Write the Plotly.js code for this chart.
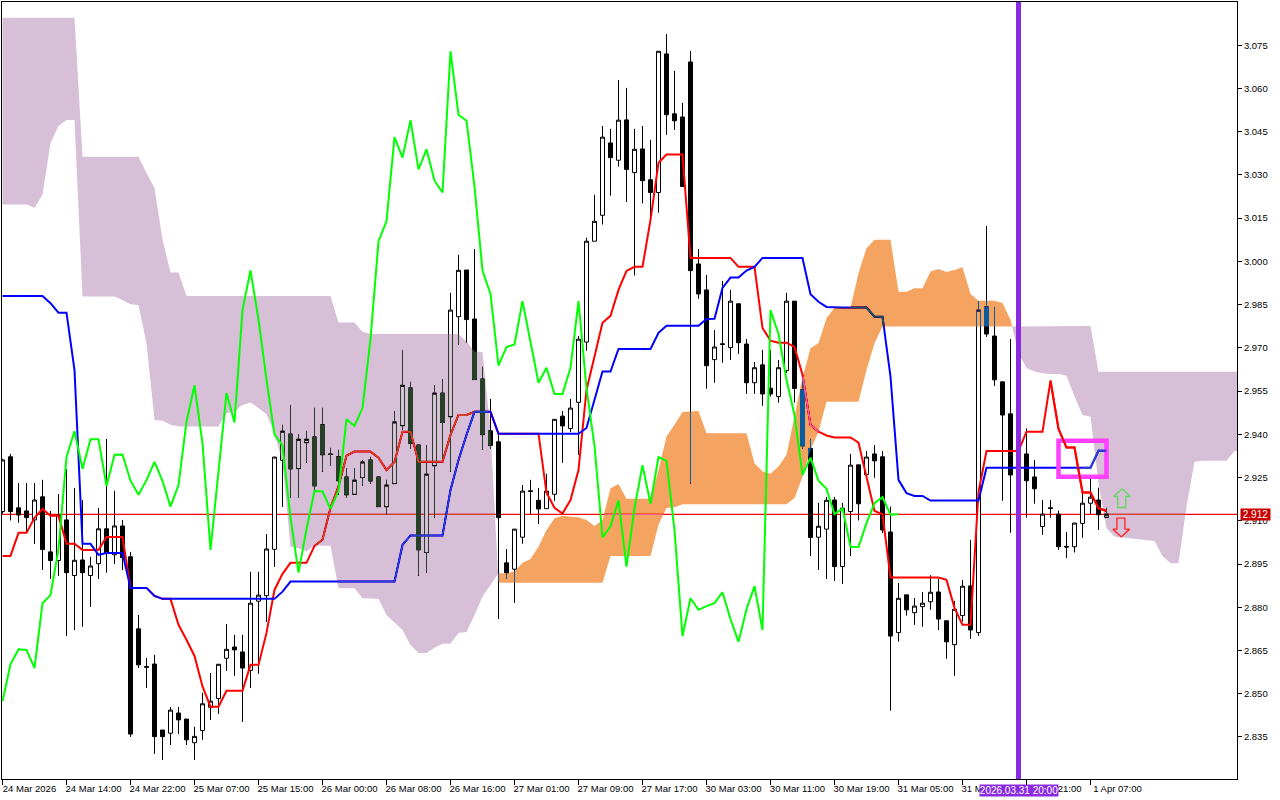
<!DOCTYPE html>
<html>
<head>
<meta charset="utf-8">
<script src="https://cdn.plot.ly/plotly-3.0.1.min.js"></script>
<style>
html,body{margin:0;padding:0;background:#fff;overflow:hidden}
#chart{width:1280px;height:800px}
/* the terminal paints its cloud as an XOR over what is already drawn */
.scatterlayer .js-fill{mix-blend-mode:difference}
</style>
</head>
<body>
<div id="chart"></div>
<script>
const open=[2.9132,2.9322,2.9145,2.9134,2.9103,2.9183,2.8992,2.8962,2.9103,2.8910,
2.8964,2.8910,2.8951,2.9072,2.8982,2.9082,2.8975,2.8725,2.8594,2.8603,
2.8374,2.8363,2.8433,2.8412,2.8330,2.8372,2.8453,2.8483,2.8623,2.8662,
2.8645,2.8581,2.8821,2.8840,2.9001,2.9310,2.9401,2.9281,2.9371,2.9391,
2.9433,2.9332,2.9322,2.9252,2.9192,2.9250,2.9311,2.9252,2.9149,2.9229,
2.9430,2.9561,2.9363,2.8990,2.9291,2.9543,2.9461,2.9808,2.9970,2.9800,
2.9592,2.9412,2.9374,2.8954,2.8932,2.9043,2.9204,2.9171,2.9142,2.9192,
2.9463,2.9420,2.9511,2.9720,3.0070,3.0160,3.0411,3.0351,3.0491,3.0308,
3.0390,3.0283,3.0239,3.0720,3.0512,3.0501,3.0692,2.9991,2.9901,2.9659,
2.9714,2.9701,2.9853,2.9713,2.9579,2.9641,2.9560,2.9531,2.9621,2.9862,
2.9554,2.9351,2.9043,2.9071,2.9172,2.8941,2.9132,2.9294,2.9260,2.9332,
2.9322,2.9061,2.8712,2.8843,2.8781,2.8802,2.8819,2.8853,2.8753,2.8670,
2.8771,2.8874,2.8712,2.9842,2.9741,2.9582,2.9471,2.9259,2.9332,2.9252,
2.9080,2.9145,2.9123,2.9011,2.9010,2.9091,2.9161,2.9172,2.9112];
const high=[2.9315,2.9332,2.9231,2.9231,2.9231,2.9242,2.9134,2.9193,2.9280,2.9214,
2.9172,2.8975,2.9145,2.9384,2.9204,2.9103,2.8992,2.8773,2.8624,2.8635,
2.8374,2.8454,2.8454,2.8412,2.8385,2.8503,2.8572,2.8603,2.8742,2.8704,
2.8704,2.8923,2.8923,2.9054,2.9322,2.9433,2.9502,2.9401,2.9412,2.9492,
2.9492,2.9353,2.9346,2.9283,2.9283,2.9311,2.9322,2.9252,2.9242,2.9481,
2.9693,2.9582,2.9363,2.9363,2.9571,2.9592,2.9891,3.0023,2.9970,3.0043,
2.9634,2.9523,2.9405,2.9002,2.9071,2.9224,2.9242,2.9214,2.9263,2.9452,
2.9481,2.9523,2.9741,3.0082,3.0231,3.0470,3.0460,3.0629,3.0602,3.0460,
3.0470,3.0422,3.0730,3.0789,3.0661,3.0550,3.0730,3.0043,2.9953,2.9762,
2.9932,2.9901,2.9853,2.9731,2.9651,2.9693,2.9693,2.9658,2.9891,2.9862,
2.9599,2.9384,2.9162,2.9183,2.9183,2.9162,2.9332,2.9294,2.9342,2.9363,
2.9342,2.9149,2.8884,2.8843,2.8832,2.8853,2.8911,2.8898,2.8753,2.8822,
2.8895,2.9034,2.9863,3.0123,2.9842,2.9582,2.9731,2.9360,2.9421,2.9311,
2.9172,2.9172,2.9135,2.9061,2.9093,2.9197,2.9252,2.9215,2.9145];
const low=[2.9125,2.9101,2.9093,2.9058,2.9020,2.8929,2.8898,2.8909,2.8700,2.8721,
2.8732,2.8801,2.8898,2.8920,2.8950,2.8929,2.8350,2.8589,2.8520,2.8291,
2.8270,2.8322,2.8360,2.8322,2.8270,2.8340,2.8409,2.8430,2.8579,2.8562,
2.8402,2.8520,2.8569,2.8749,2.8940,2.9148,2.9179,2.9179,2.9301,2.9204,
2.9270,2.9290,2.9190,2.9179,2.9190,2.9221,2.9228,2.9148,2.9120,2.9228,
2.9415,2.9349,2.8909,2.8919,2.9110,2.9304,2.9270,2.9710,2.9717,2.9589,
2.9346,2.9349,2.8759,2.8898,2.8815,2.9020,2.9120,2.9089,2.9141,2.9169,
2.9301,2.9408,2.9329,2.9690,3.0070,3.0128,3.0228,3.0329,3.0206,2.9951,
3.0201,3.0155,3.0169,3.0439,3.0456,3.0259,2.9229,2.9870,2.9558,2.9579,
2.9648,2.9658,2.9679,2.9540,2.9540,2.9499,2.9531,2.9510,2.9613,2.9510,
2.9350,2.8978,2.8929,2.8898,2.8891,2.8881,2.8978,2.9101,2.9259,2.9249,
2.9057,2.8441,2.8681,2.8771,2.8739,2.8732,2.8791,2.8721,2.8621,2.8562,
2.8750,2.8690,2.8700,2.9738,2.9568,2.9169,2.9058,2.9240,2.9111,2.9159,
2.9051,2.9111,2.8999,2.8971,2.8990,2.9041,2.9123,2.9068,2.9112];
const close=[2.9311,2.9132,2.9120,2.9111,2.9172,2.9000,2.8962,2.9120,2.8920,2.8963,
2.8920,2.8943,2.9072,2.8988,2.9082,2.8972,2.8360,2.8600,2.8592,2.8351,
2.8351,2.8443,2.8409,2.8340,2.8352,2.8465,2.8474,2.8602,2.8654,2.8652,
2.8589,2.8814,2.8842,2.9002,2.9321,2.9411,2.9280,2.9383,2.9383,2.9221,
2.9329,2.9330,2.9239,2.9190,2.9241,2.9304,2.9238,2.9149,2.9224,2.9443,
2.9570,2.9369,2.8999,2.9262,2.9543,2.9441,2.9831,2.9969,2.9798,2.9590,
2.9399,2.9361,2.9111,2.8920,2.9071,2.9203,2.9202,2.9141,2.9203,2.9452,
2.9429,2.9491,2.9730,3.0070,3.0139,3.0431,3.0360,3.0490,3.0319,3.0389,
3.0280,3.0239,3.0729,3.0509,3.0488,3.0260,2.9968,2.9887,2.9638,2.9703,
2.9712,2.9862,2.9718,2.9579,2.9631,2.9540,2.9540,2.9631,2.9862,2.9559,
2.9360,2.9042,2.9081,2.9171,2.8941,2.9144,2.9293,2.9159,2.9321,2.9308,
2.9068,2.8700,2.8831,2.8791,2.8804,2.8814,2.8852,2.8759,2.8680,2.8793,
2.8873,2.8721,2.9831,2.9748,2.9589,2.9467,2.9259,2.9319,2.9239,2.9211,
2.9123,2.9143,2.9010,2.9009,2.9092,2.9161,2.9182,2.9121,2.9123];
const tenkan=[2.8978,2.8978,2.9058,2.9058,2.9110,2.9141,2.9117,2.9117,2.9020,2.9020,
2.8999,2.8999,2.8999,2.9044,2.9044,2.9044,2.8867,2.8867,2.8867,2.8839,
2.8829,2.8829,2.8739,2.8687,2.8631,2.8525,2.8455,2.8455,2.8510,2.8510,
2.8510,2.8600,2.8600,2.8711,2.8860,2.8916,2.8954,2.8954,2.8954,2.9013,
2.9034,2.9145,2.9219,2.9326,2.9340,2.9340,2.9340,2.9319,2.9276,2.9304,
2.9409,2.9409,2.9305,2.9305,2.9305,2.9305,2.9398,2.9467,2.9467,2.9478,
2.9478,2.9478,2.9402,2.9402,2.9402,2.9402,2.9402,2.9402,2.9197,2.9145,
2.9125,2.9172,2.9276,2.9554,2.9670,2.9787,2.9811,2.9901,2.9967,2.9981,
2.9981,3.0144,3.0342,3.0371,3.0371,3.0371,3.0012,3.0012,3.0012,3.0012,
3.0012,3.0012,2.9981,2.9981,2.9981,2.9769,2.9725,2.9718,2.9718,2.9703,
2.9606,2.9433,2.9409,2.9396,2.9389,2.9389,2.9389,2.9371,2.9253,2.9134,
2.9123,2.8903,2.8903,2.8903,2.8903,2.8903,2.8903,2.8903,2.8895,2.8798,
2.8739,2.8739,2.9200,2.9342,2.9342,2.9342,2.9342,2.9342,2.9409,2.9409,
2.9409,2.9586,2.9419,2.9354,2.9354,2.9198,2.9198,2.9144,2.9134];
const kijun=[2.9880,2.9880,2.9880,2.9880,2.9880,2.9880,2.9855,2.9822,2.9822,2.9623,
2.9020,2.9020,2.8982,2.8988,2.8988,2.8988,2.8867,2.8867,2.8867,2.8839,
2.8829,2.8829,2.8829,2.8829,2.8829,2.8829,2.8829,2.8829,2.8829,2.8829,
2.8829,2.8829,2.8829,2.8829,2.8829,2.8854,2.8889,2.8889,2.8889,2.8889,
2.8889,2.8889,2.8889,2.8889,2.8889,2.8889,2.8889,2.8889,2.8889,2.8889,
2.9016,2.9049,2.9049,2.9049,2.9049,2.9049,2.9207,2.9311,2.9398,2.9478,
2.9478,2.9478,2.9402,2.9402,2.9402,2.9402,2.9402,2.9402,2.9402,2.9402,
2.9402,2.9402,2.9402,2.9422,2.9519,2.9618,2.9618,2.9696,2.9696,2.9696,
2.9696,2.9696,2.9752,2.9777,2.9777,2.9777,2.9777,2.9777,2.9800,2.9801,
2.9908,2.9944,2.9944,2.9968,2.9981,3.0012,3.0012,3.0012,3.0012,3.0012,
3.0012,2.9886,2.9860,2.9842,2.9840,2.9840,2.9840,2.9840,2.9840,2.9808,
2.9808,2.9600,2.9242,2.9196,2.9186,2.9186,2.9170,2.9170,2.9170,2.9170,
2.9170,2.9170,2.9170,2.9284,2.9284,2.9284,2.9284,2.9284,2.9284,2.9284,
2.9284,2.9284,2.9284,2.9284,2.9284,2.9284,2.9284,2.9343,2.9343];
const chikou=[2.8474,2.8602,2.8654,2.8652,2.8589,2.8814,2.8842,2.9002,2.9321,2.9411,
2.9280,2.9383,2.9383,2.9221,2.9329,2.9330,2.9239,2.9190,2.9241,2.9304,
2.9238,2.9149,2.9224,2.9443,2.9570,2.9369,2.8999,2.9262,2.9543,2.9441,
2.9831,2.9969,2.9798,2.9590,2.9399,2.9361,2.9111,2.8920,2.9071,2.9203,
2.9202,2.9141,2.9203,2.9452,2.9429,2.9491,2.9730,3.0070,3.0139,3.0431,
3.0360,3.0490,3.0319,3.0389,3.0280,3.0239,3.0729,3.0509,3.0488,3.0260,
2.9968,2.9887,2.9638,2.9703,2.9712,2.9862,2.9718,2.9579,2.9631,2.9540,
2.9540,2.9631,2.9862,2.9559,2.9360,2.9042,2.9081,2.9171,2.8941,2.9144,
2.9293,2.9159,2.9321,2.9308,2.9068,2.8700,2.8831,2.8791,2.8804,2.8814,
2.8852,2.8759,2.8680,2.8793,2.8873,2.8721,2.9831,2.9748,2.9589,2.9467,
2.9259,2.9319,2.9239,2.9211,2.9123,2.9143,2.9010,2.9009,2.9092,2.9161,
2.9182,2.9121,2.9123];
const spanA=[3.0197,3.0197,3.0197,3.0197,3.0186,3.0231,3.0411,3.0470,3.0491,3.0491,
2.9878,2.9878,2.9878,2.9878,2.9878,2.9866,2.9851,2.9849,2.9716,2.9450,
2.9447,2.9433,2.9427,2.9427,2.9427,2.9427,2.9427,2.9427,2.9473,2.9479,
2.9502,2.9510,2.9491,2.9470,2.9404,2.9300,2.9010,2.9005,2.8993,2.9016,
2.9013,2.9013,2.8866,2.8866,2.8866,2.8831,2.8829,2.8829,2.8773,2.8746,
2.8721,2.8669,2.8641,2.8641,2.8659,2.8673,2.8673,2.8711,2.8714,2.8773,
2.8836,2.8877,2.8918,2.8918,2.8924,2.8954,2.8967,2.9010,2.9068,2.9109,
2.9117,2.9114,2.9112,2.9103,2.9082,2.9103,2.9213,2.9228,2.9176,2.9176,
2.9176,2.9176,2.9276,2.9392,2.9433,2.9477,2.9479,2.9481,2.9404,2.9404,
2.9404,2.9404,2.9404,2.9404,2.9300,2.9271,2.9263,2.9288,2.9329,2.9467,
2.9596,2.9699,2.9717,2.9803,2.9839,2.9839,2.9839,2.9959,3.0046,3.0075,
3.0075,3.0075,2.9895,2.9895,2.9907,2.9907,2.9965,2.9974,2.9963,2.9970,
2.9980,2.9887,2.9863,2.9863,2.9863,2.9856,2.9797,2.9681,2.9630,2.9618,
2.9612,2.9609,2.9609,2.9603,2.9531,2.9467,2.9461,2.9230,2.9074,2.9045,
2.9042,2.9039,2.9036,2.9034,2.9030,2.8978,2.8953,2.8953,2.9149,2.9305,
2.9308,2.9308,2.9308,2.9308,2.9342];
const spanB=[3.0845,3.0845,3.0845,3.0845,3.0845,3.0845,3.0845,3.0845,3.0845,3.0845,
3.0363,3.0363,3.0363,3.0363,3.0363,3.0363,3.0363,3.0363,3.0307,3.0255,
3.0075,2.9961,2.9961,2.9880,2.9880,2.9880,2.9880,2.9880,2.9880,2.9880,
2.9880,2.9880,2.9880,2.9880,2.9880,2.9880,2.9880,2.9880,2.9880,2.9880,
2.9880,2.9880,2.9788,2.9788,2.9788,2.9756,2.9748,2.9748,2.9748,2.9748,
2.9748,2.9748,2.9748,2.9748,2.9748,2.9748,2.9748,2.9748,2.9722,2.9687,
2.9686,2.9415,2.8885,2.8885,2.8885,2.8885,2.8885,2.8885,2.8885,2.8885,
2.8885,2.8885,2.8885,2.8885,2.8885,2.8885,2.8978,2.8978,2.8978,2.8978,
2.8978,2.8978,2.9086,2.9144,2.9147,2.9157,2.9157,2.9157,2.9157,2.9157,
2.9157,2.9157,2.9157,2.9157,2.9157,2.9157,2.9157,2.9157,2.9157,2.9179,
2.9253,2.9346,2.9409,2.9513,2.9513,2.9513,2.9513,2.9513,2.9623,2.9716,
2.9774,2.9774,2.9774,2.9774,2.9774,2.9774,2.9774,2.9774,2.9774,2.9774,
2.9774,2.9774,2.9774,2.9774,2.9774,2.9774,2.9774,2.9776,2.9776,2.9776,
2.9776,2.9776,2.9776,2.9776,2.9776,2.9776,2.9776,2.9617,2.9617,2.9617,
2.9617,2.9617,2.9617,2.9617,2.9617,2.9617,2.9617,2.9617,2.9617,2.9617,
2.9617,2.9617,2.9617,2.9617,2.9617];
const xTickVals=[0,8,16,24,32,40,48,56,64,72,80,88,96,104,112,120,128,136];
const xTickText=['24 Mar 2026','24 Mar 14:00','24 Mar 22:00','25 Mar 07:00','25 Mar 15:00','26 Mar 00:00','26 Mar 08:00','26 Mar 16:00','27 Mar 01:00','27 Mar 09:00','27 Mar 17:00','30 Mar 03:00','30 Mar 11:00','30 Mar 19:00','31 Mar 05:00','31 Mar 13:00','31 Mar 21:00','1 Apr 07:00'];
const yTickVals=[2.835,2.85,2.865,2.88,2.895,2.91,2.925,2.94,2.955,2.97,2.985,3.0,3.015,3.03,3.045,3.06,3.075];
const lastPrice=2.9122;
const markerBar=127;
const boxX=[132,138,138,132,132,138];
const boxY=[2.9378,2.9378,2.9253,2.9253,2.9378,2.9378];
const upArrowX=[139.97,141,140.4,140.4,139.4,139.4,138.9,139.97];
const upArrowY=[2.9211,2.9184,2.9184,2.9146,2.9146,2.9184,2.9184,2.9211];
const downArrowX=[139.85,140.9,140.3,140.3,139.3,139.3,138.8,139.85];
const downArrowY=[2.9044,2.9071,2.9071,2.9109,2.9109,2.9071,2.9071,2.9044];
const xMin=-0.0625, xMax=154.3125, yMin=2.8204, yMax=3.0900;

const idx=close.map((_,i)=>i);
const font={family:'"Liberation Sans",Arial,sans-serif',size:9.5,color:'#000'};

// Cloud polygons, split wherever the two spans cross
function cloudTraces(){
  const xs=spanA.map((_,i)=>i).concat([xMax]);
  const a=spanA.concat([spanA[spanA.length-1]]);
  const b=spanB.concat([spanB[spanB.length-1]]);
  const out=[];
  let cx=[xs[0]],ca=[a[0]],cb=[b[0]],up=a[0]>b[0];
  const flush=()=>{
    out.push({type:'scatter',mode:'lines',x:cx.concat(cx.slice().reverse()),
      y:ca.concat(cb.slice().reverse()),fill:'toself',
      fillcolor:up?'#0B5B9F':'#274027',line:{width:0},hoverinfo:'skip',showlegend:false});
  };
  for(let i=1;i<xs.length;i++){
    const nowUp=a[i]>b[i];
    if(nowUp!==up){
      const d0=a[i-1]-b[i-1],d1=a[i]-b[i],t=d0/(d0-d1);
      const xc=xs[i-1]+t*(xs[i]-xs[i-1]),yc=a[i-1]+t*(a[i]-a[i-1]);
      cx.push(xc);ca.push(yc);cb.push(yc);flush();
      cx=[xc];ca=[yc];cb=[yc];up=nowUp;
    }
    cx.push(xs[i]);ca.push(a[i]);cb.push(b[i]);
  }
  flush();
  return out;
}
const line=(x,y,color,width)=>({type:'scatter',mode:'lines',x,y,line:{color,width},hoverinfo:'skip',showlegend:false});

const traces=[
  // white backing inside the plot group, so the cloud's XOR has something to act on
  {type:'bar',orientation:'v',x:[(xMin+xMax)/2],y:[yMax-yMin],base:[yMin],width:[xMax-xMin],
   marker:{color:'#ffffff',line:{width:0}},hoverinfo:'skip',showlegend:false},
  // last-price line, under the candles
  {type:'bar',orientation:'h',y:[lastPrice],x:[xMax-xMin],base:[xMin],width:[0.0004],
   marker:{color:'#ff0000',line:{width:0}},hoverinfo:'skip',showlegend:false},
  {type:'candlestick',x:idx,open,high,low,close,whiskerwidth:0,hoverinfo:'skip',showlegend:false,
   increasing:{line:{color:'#000',width:1},fillcolor:'#fff'},
   decreasing:{line:{color:'#000',width:1},fillcolor:'#000'}},
  line(idx,tenkan,'#ff0000',2),
  line(idx,kijun,'#0000ff',2),
  ...cloudTraces(),
  line(boxX,boxY,'#ff40ff',4.5),
  line(idx.slice(131),tenkan.slice(131),'#ff0000',2),
  line(idx.slice(135),kijun.slice(135),'#2a40d8',2),
  line(chikou.map((_,i)=>i),chikou,'#00ff00',2),
  line(upArrowX,upArrowY,'#62d862',1.4),
  line(downArrowX,downArrowY,'#ff2a2a',1.4)
];

const layout={
  width:1280,height:800,margin:{l:2,r:43,t:2,b:21},
  paper_bgcolor:'#fff',plot_bgcolor:'#fff',showlegend:false,boxgap:0.5,boxgroupgap:0,barmode:'overlay',
  hovermode:false,dragmode:false,
  xaxis:{type:'linear',range:[xMin,xMax],showgrid:false,zeroline:false,rangeslider:{visible:false},
    showline:true,linecolor:'#000',linewidth:1,mirror:true,
    tickmode:'array',tickvals:xTickVals,ticktext:xTickText,ticks:'outside',ticklen:5,tickcolor:'#000',tickwidth:1,
    tickfont:font,ticklabelshift:27,ticklabelstandoff:-4,tickangle:0},
  yaxis:{type:'linear',range:[yMin,yMax],side:'right',showgrid:false,zeroline:false,
    showline:true,linecolor:'#000',linewidth:1,mirror:true,
    tickmode:'array',tickvals:yTickVals,ticktext:yTickVals.map(v=>v.toFixed(3)),ticks:'outside',ticklen:4,tickcolor:'#000',tickwidth:1,
    tickfont:font},
  shapes:[
    {type:'line',xref:'x',yref:'paper',x0:markerBar,x1:markerBar,y0:0,y1:1,line:{color:'#8A2BE2',width:5},layer:'above'}
  ],
  annotations:[
    {xref:'paper',yref:'y',x:1.0024,y:lastPrice,xanchor:'left',yanchor:'middle',text:lastPrice.toFixed(3),showarrow:false,
     bgcolor:'#c80000',font:{family:font.family,size:10,color:'#fff'},width:29,height:11,borderpad:0,align:'center'},
    {xref:'x',yref:'paper',x:markerBar,y:-0.0065,xanchor:'center',yanchor:'top',text:'2026.03.31 20:00',showarrow:false,
     bgcolor:'#8A2BE2',font:{family:font.family,size:10,color:'#fff'},width:78,height:11,borderpad:0,align:'center'}
  ]
};
Plotly.newPlot('chart',traces,layout,{displayModeBar:false,staticPlot:true});
</script>
</body>
</html>
